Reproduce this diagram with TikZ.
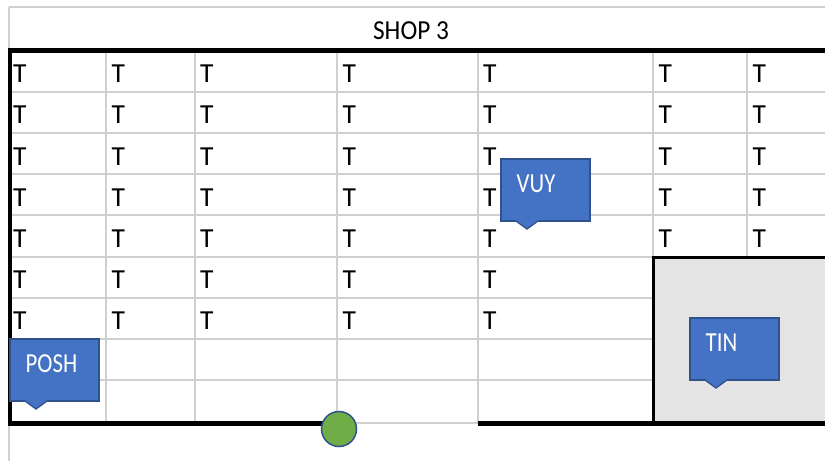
\documentclass[tikz,border=0pt]{standalone}
\usepackage{fontspec}
\setmainfont{Carlito}
\definecolor{gridgray}{RGB}{208,208,208}
\definecolor{calloutfill}{RGB}{68,114,196}
\definecolor{calloutedge}{RGB}{47,82,143}
\definecolor{shadefill}{RGB}{228,228,228}
\definecolor{dotgreen}{RGB}{112,173,71}
\newcommand{\sheetfont}{\fontsize{27.5}{30}\selectfont}

\begin{document}
\begin{tikzpicture}[x=1pt,y=-1pt,
  gridline/.style={draw=gridgray,line width=2pt},
  heavy/.style={draw=black,line width=5pt},
  cell/.style={anchor=base west,inner sep=0pt,outer sep=0pt,font=\sheetfont},
  bubble/.style={rectangle,fill=calloutfill,draw=calloutedge,line width=1.3pt,
    inner sep=0pt,outer sep=0pt,anchor=north west},
  bubbletext/.style={anchor=base west,inner sep=0pt,text=white,font=\sheetfont,xscale=0.83},
]
\useasboundingbox (0,0) rectangle (825,461);
\fill[white] (0,0) rectangle (825,461);

% sheet grid lines
\draw[gridline] (9,7) -- (825,7);
\draw[gridline] (9,7) -- (9,50);
\draw[gridline] (9,423) -- (9,461);
\foreach \x in {106,195,337,478}
  \draw[gridline] (\x,50) -- (\x,423);
\foreach \x in {653,747}
  \draw[gridline] (\x,50) -- (\x,257);
\foreach \k in {1,...,4}
  \draw[gridline] (10,{50.5+41.2*\k}) -- (825,{50.5+41.2*\k});
\foreach \k in {5,...,8}
  \draw[gridline] (10,{50.5+41.2*\k}) -- (653,{50.5+41.2*\k});
\draw[gridline] (337,423) -- (478,423);

% header
\node[cell,anchor=base,xscale=0.92] (title) at (411,39) {SHOP 3};

% table cells
\foreach \c/\x in {1/13,2/111.5,3/200,4/342.5,5/483}
  \foreach \r in {1,...,7}
    \node[cell] (t-\r-\c) at (\x,{50.5+41.2*\r-9}) {T};
\foreach \c/\x in {6/658.5,7/752.5}
  \foreach \r in {1,...,5}
    \node[cell] (t-\r-\c) at (\x,{50.5+41.2*\r-9}) {T};

% shaded room
\fill[shadefill] (653,257) rectangle (825,423);
\draw[draw=black,line width=3pt] (653,423) -- (653,257) -- (825,257);

% outer walls
\draw[heavy] (8.2,50.5) -- (825,50.5);
\draw[heavy] (8.2,423) -- (339,423);
\draw[heavy] (478,423) -- (825,423);
\draw[draw=black,line width=3.5pt] (10,48) -- (10,425.5);

% callouts
\foreach \name/\x/\y/\txt in {posh/10/339/POSH, vuy/501/159/VUY, tin/690/318/TIN}{
  \node[bubble,minimum width=89,minimum height=62] (\name) at (\x,\y) {};
  \fill[calloutfill] ([xshift=15pt,yshift=1.5pt]\name.south west) -- ++(0,1.5)
    -- ++(11,8) -- ++(11,-8) -- ++(0,-1.5) -- cycle;
  \draw[calloutedge,line width=1.3pt,line join=miter]
    ([xshift=15pt]\name.south west) -- ++(11,8) -- ++(11,-8);
  \node[bubbletext] (\name-label) at ([xshift=15.5pt,yshift=-33pt]\name.north west) {\txt};
}

% door marker
\node[circle,fill=dotgreen,draw=calloutedge,line width=1.5pt,
  minimum size=35pt,inner sep=0pt] (door) at (339,429) {};
\end{tikzpicture}
\end{document}
